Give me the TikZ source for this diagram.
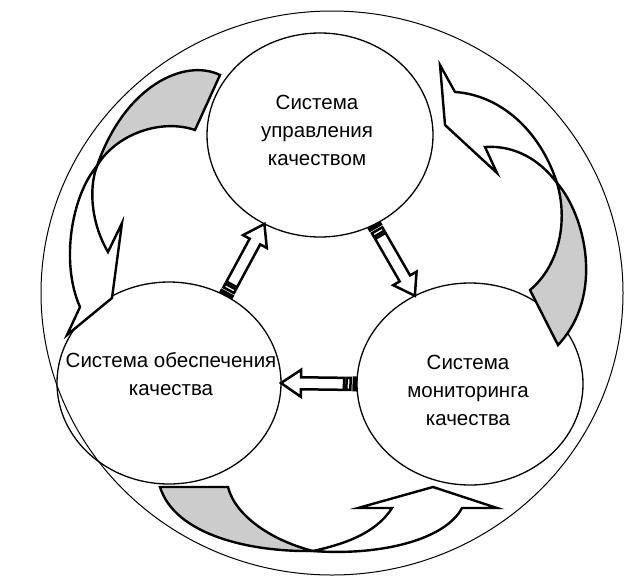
\documentclass[tikz,border=0pt]{standalone}
\usepackage{fontspec}
\setmainfont{Liberation Sans}
\usetikzlibrary{shapes.geometric,calc}
\definecolor{bandgray}{RGB}{204,204,204}
\tikzset{
  sys/.style={ellipse, draw, line width=1.3pt, inner sep=0pt, outer sep=0pt},
  lbl/.style={align=center, font=\fontsize{20.5}{28}\selectfont, inner sep=0pt},
  bandg/.style={draw, line width=2.4pt, line join=miter, fill=bandgray},
  bandw/.style={draw, line width=2.4pt, line join=miter, fill=white},
  sa/.style={draw, line width=2.5pt, fill=white, line join=miter},
}
\newcommand{\stripedarrow}[2]{%
  \path let \p1=(#1), \p2=(#2) in
    \pgfextra{%
      \pgfmathsetmacro\tmpang{atan2(\y2-\y1,\x2-\x1)}%
      \pgfmathsetmacro\tmplen{veclen(\x2-\x1,\y2-\y1)}%
      \global\let\saang\tmpang
      \global\let\salen\tmplen};
  \begin{scope}[shift={(#1)}, rotate=\saang, x=1pt, y=1pt]
    \fill (0,-7.5) rectangle (4.5,7.5);
    \draw[sa] (6.5,-6) rectangle (10.5,6);
    \draw[sa] (13,-6) -- ({\salen-20},-6) -- ({\salen-20},-13.5) -- (\salen,0)
      -- ({\salen-20},13.5) -- ({\salen-20},6) -- (13,6) -- cycle;
  \end{scope}}
\begin{document}
\begin{tikzpicture}[x=1pt,y=-1pt]
\useasboundingbox (0,0) rectangle (626,576);
\fill[white] (0,0) rectangle (626,576);
% outer ellipse
\draw[line width=1pt] (332,293) ellipse [x radius=291, y radius=282];
% the three systems
\node[sys, minimum width=226pt, minimum height=204pt] (T) at (320,135) {};
\node[sys, minimum width=224pt, minimum height=202pt] (L) at (169,383) {};
\node[sys, minimum width=226pt, minimum height=202pt] (R) at (470,384) {};
\node[lbl] (tT) at (317,130) {Система\\управления\\качеством};
\node[lbl] (tL) at (171,374) {Система обеспечения\\качества};
\node[lbl] (tR) at (468,390) {Система\\мониторинга\\качества};
% curved arrow, upper left
\draw[bandg] (220,75) .. controls (185,58) and (125,85) .. (97,166)
  .. controls (115,135) and (160,118) .. (195,130) -- cycle;
\draw[bandw] (97,166) .. controls (72,195) and (60,262) .. (80,307)
  -- (67,335) -- (112,298) -- (122,223) -- (108,252)
  .. controls (92,225) and (88,190) .. (97,166) -- cycle;
% curved arrow, upper right
\draw[bandw] (440,65) -- (455,92) .. controls (500,95) and (540,130) .. (557,183)
  .. controls (540,160) and (515,145) .. (485,147) -- (497,173) -- (445,125) -- cycle;
\draw[bandg] (557,183) .. controls (585,215) and (605,295) .. (558,345)
  -- (530,290) .. controls (560,265) and (568,220) .. (557,183) -- cycle;
% curved arrow, bottom
\draw[bandg] (160,487) -- (228,487) .. controls (235,515) and (270,540) .. (313,551)
  .. controls (250,552) and (175,535) .. (160,487) -- cycle;
\draw[bandw] (313,551) .. controls (380,556) and (445,540) .. (462,508)
  -- (497,508) -- (433,487) -- (358,508) -- (392,508)
  .. controls (375,535) and (340,545) .. (313,551) -- cycle;
% striped arrows between the systems
\stripedarrow{L.57}{T.238}
\stripedarrow{T.301}{R.122}
\stripedarrow{R.180}{L.0}
\end{tikzpicture}
\end{document}
